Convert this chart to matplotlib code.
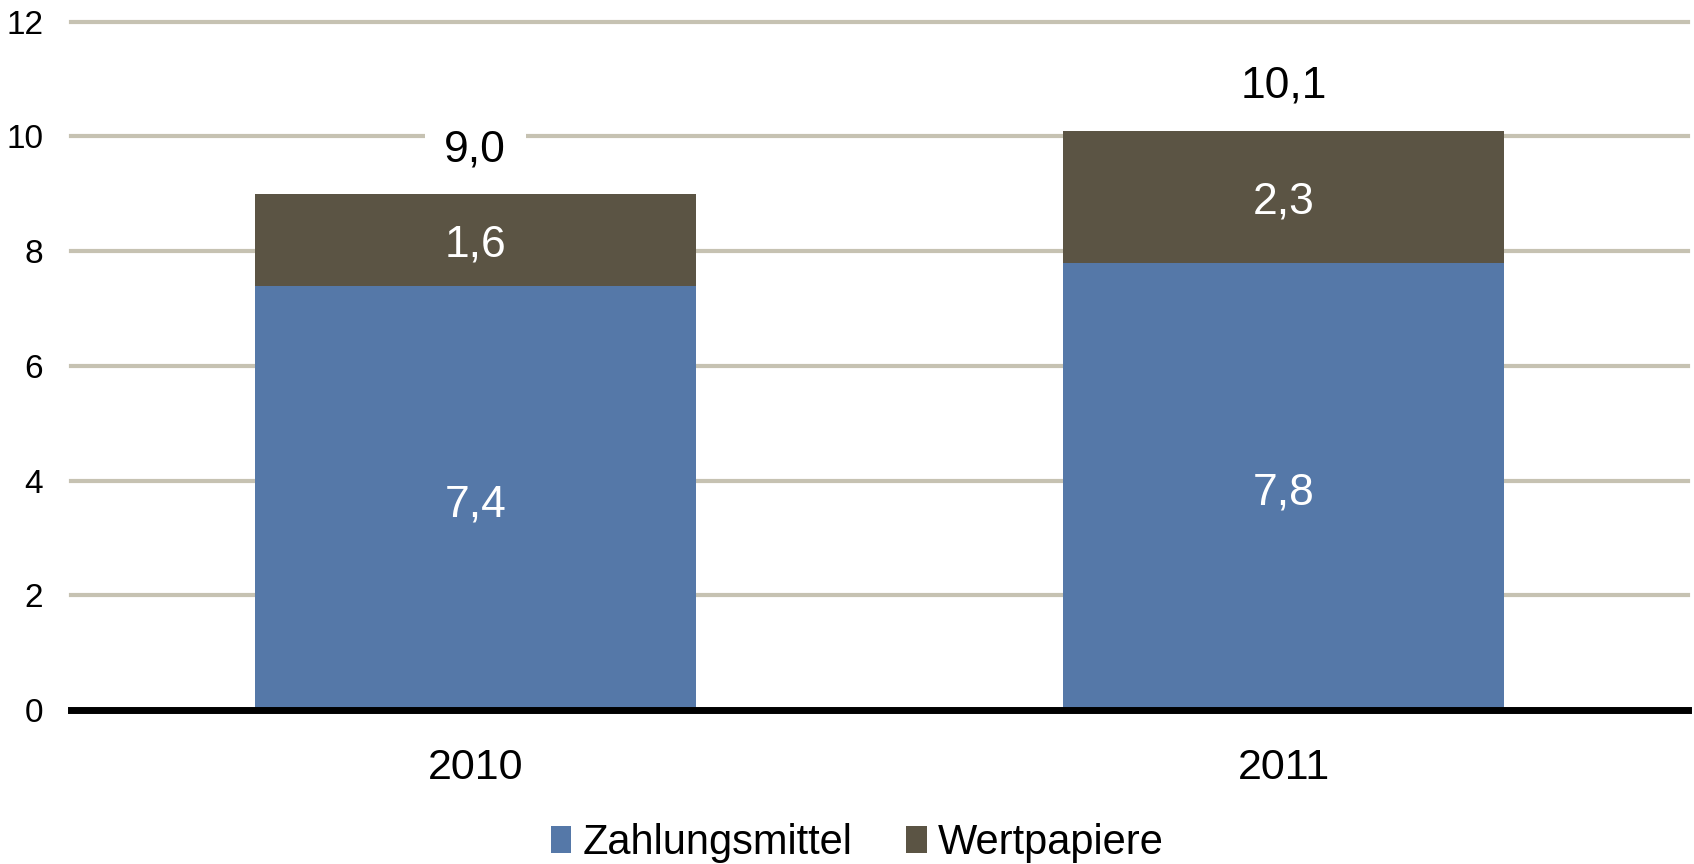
import matplotlib
matplotlib.use('Agg')
import matplotlib.pyplot as plt

plt.rcParams['font.family'] = ['Liberation Sans', 'DejaVu Sans']

BLUE = '#5578a8'
DARK = '#5b5444'
GRID = '#c6c2b2'

years = ['2010', '2011']
zahlungsmittel = [7.4, 7.8]
wertpapiere = [1.6, 2.3]
totals = [9.0, 10.1]
yticks = [0, 2, 4, 6, 8, 10, 12]


def de(v):
    return f'{v:.1f}'.replace('.', ',')


fig = plt.figure(figsize=(16.94, 8.64), dpi=100)
ax = fig.add_axes([0.0419, 0.178, 0.9546, 0.797])

x = range(len(years))
b1 = ax.bar(x, zahlungsmittel, width=0.545, color=BLUE, zorder=3,
            label='Zahlungsmittel')
b2 = ax.bar(x, wertpapiere, width=0.545, bottom=zahlungsmittel, color=DARK,
            zorder=3, label='Wertpapiere')

# segment labels sit a touch below the middle, as in the source chart
for i in x:
    ax.text(i, zahlungsmittel[i] / 2 - 0.12, de(zahlungsmittel[i]),
            ha='center', va='center', color='white', fontsize=32, zorder=4)
    ax.text(i, zahlungsmittel[i] + wertpapiere[i] / 2 - 0.1, de(wertpapiere[i]),
            ha='center', va='center', color='white', fontsize=32, zorder=4)
    ax.text(i, totals[i] + 0.77, de(totals[i]), ha='center', va='center',
            color='black', fontsize=32, zorder=4,
            bbox=dict(facecolor='white', edgecolor='none', pad=14))

ax.set_xlim(-0.5, 1.5)
ax.set_ylim(0, 12)
ax.set_yticks(yticks)
ax.set_yticklabels([str(t) for t in yticks])
ax.set_xticks(list(x))
ax.set_xticklabels(years)
ax.tick_params(axis='y', length=0, pad=20, labelsize=24)
ax.tick_params(axis='x', length=0, pad=27, labelsize=31)
ax.yaxis.grid(True, color=GRID, linewidth=3, zorder=1)
ax.set_axisbelow(True)
for s in ['top', 'right', 'left']:
    ax.spines[s].set_visible(False)
ax.spines['bottom'].set_linewidth(5)
ax.spines['bottom'].set_color('black')
ax.spines['bottom'].set_zorder(5)
for line in ax.get_ygridlines():
    line.set_clip_on(False)

fig.legend(handles=[b1, b2], loc='center', bbox_to_anchor=(0.506, 0.024),
           ncol=2, frameon=False, fontsize=30, handlelength=0.5,
           handleheight=0.6, handletextpad=0.26, columnspacing=1.3)

fig.savefig('out.png', dpi=100)
